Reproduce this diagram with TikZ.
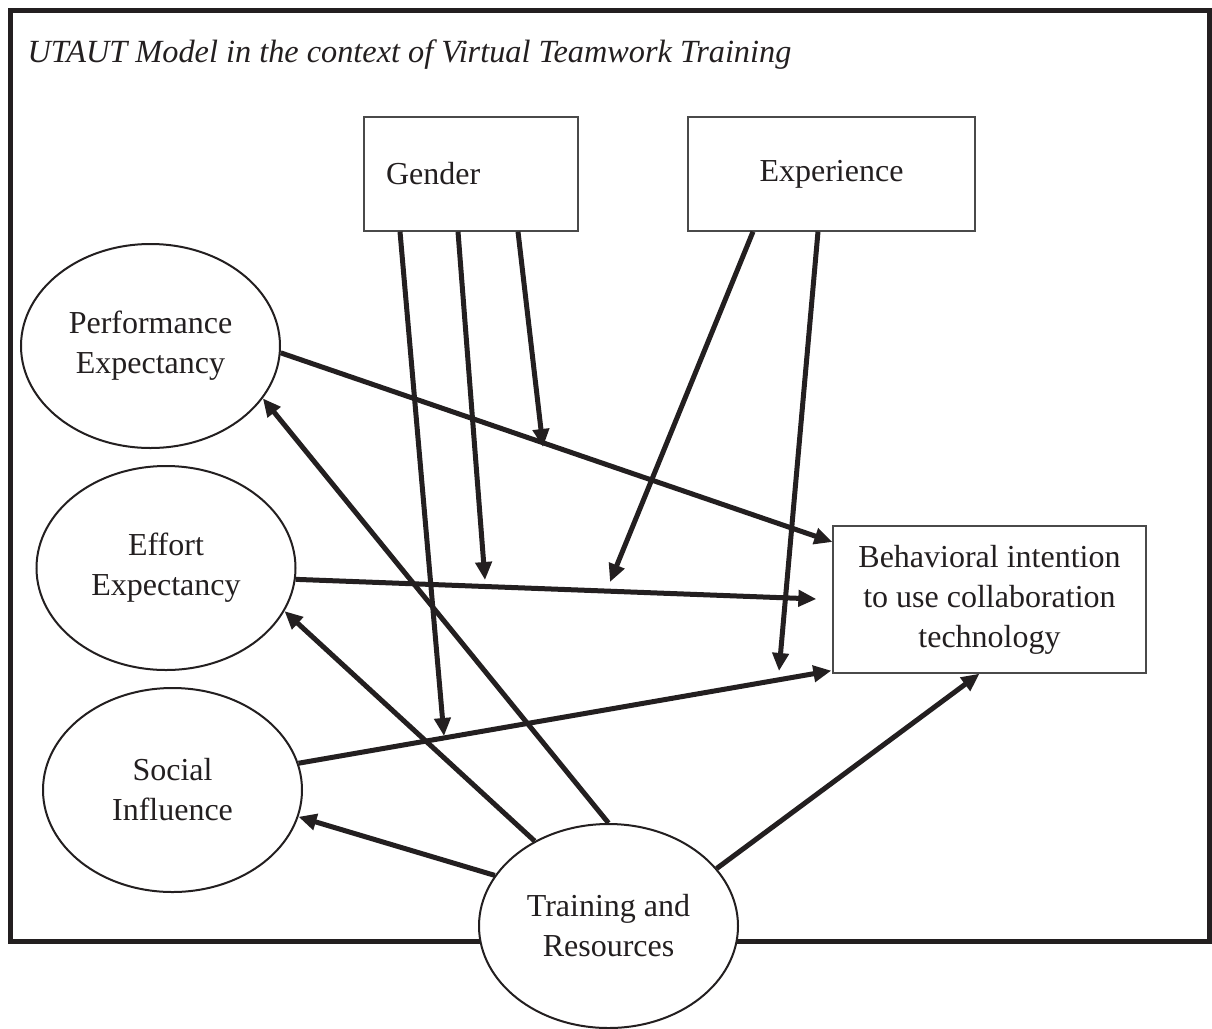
\documentclass[tikz,border=0pt]{standalone}
\usepackage{fontspec}
\setmainfont{Liberation Serif}
\usetikzlibrary{shapes.geometric,arrows.meta}
\definecolor{ink}{HTML}{231F20}
\definecolor{boxline}{HTML}{4A4A4A}
\begin{document}
\begin{tikzpicture}[x=1pt,y=-1pt,
  every node/.style={text=ink, font=\fontsize{32}{40}\selectfont},
  construct/.style={ellipse, draw=ink, line width=2pt, fill=white,
    minimum width=259pt, minimum height=204pt, inner sep=0pt, align=center},
  factor/.style={rectangle, draw=boxline, line width=1.3pt, fill=white,
    inner sep=0pt, align=center},
  link/.style={draw=ink, line width=5pt, -{Triangle[length=18pt,width=16pt]}}]
\useasboundingbox (0,0) rectangle (1212,1028);
\fill[white] (0,0) rectangle (1212,1028);

% outer frame of the model
\draw[ink, line width=5pt] (10.5,10.5) rectangle (1209.5,941.5);
\node[anchor=base west, font=\fontsize{32.3}{40}\selectfont\itshape] (title) at (24,62)
  {UTAUT Model in the context of Virtual Teamwork Training};

% moderators
\node[factor, minimum width=214pt, minimum height=114pt, text width=170pt,
      align=left, inner xsep=22pt] (gender) at (471,174) {Gender};
\node[factor, minimum width=287pt, minimum height=114pt] (exper) at (831.5,174) {Experience};

% outcome
\node[factor, minimum width=313pt, minimum height=147pt] (behav) at (989.5,599.5)
  {Behavioral intention\\to use collaboration\\technology};

% determinants
\node[construct] (perf)   at (150.5,346) {Performance\\Expectancy};
\node[construct] (effort) at (166,568)   {Effort\\Expectancy};
\node[construct] (social) at (172.5,790) {Social\\Influence};
\node[construct] (train)  at (608.5,926) {Training and\\Resources};

% moderating arrow ends
\coordinate (g1) at (444,736);
\coordinate (g2) at (485,580);
\coordinate (g3) at (543,447);
\coordinate (e1) at (610,582);
\coordinate (e2) at (779,671);

\draw[link] ([xshift=-71pt]gender.south) -- (g1);
\draw[link] ([xshift=-13pt]gender.south) -- (g2);
\draw[link] ([xshift=47pt]gender.south) -- (g3);
\draw[link] ([xshift=-78.5pt]exper.south) -- (e1);
\draw[link] ([xshift=-13.5pt]exper.south) -- (e2);

% determinants to intention
\draw[link] (perf.-3) -- ([yshift=57.5pt]behav.west);
\draw[link] (effort.-5) -- ([xshift=-16pt,yshift=0.5pt]behav.west);
\draw[link] (social.12) -- ([xshift=-1pt,yshift=3pt]behav.south west);

% training and resources
\draw[link] (train.north) -- (perf.-25);
\draw[link] (train.131) -- (effort.-20);
\draw[link] (train.156) -- (social.-12);
\draw[link] (train.28) -- ([xshift=-10pt]behav.south);
\end{tikzpicture}
\end{document}
